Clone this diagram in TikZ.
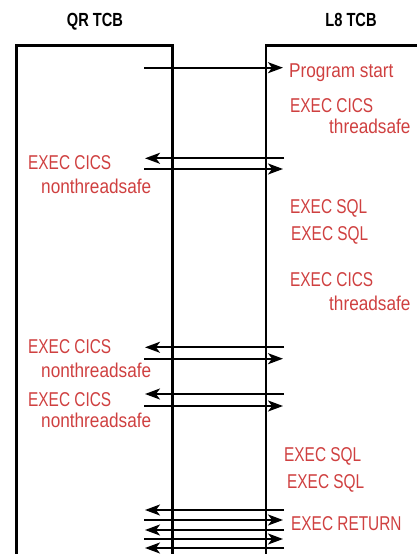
\documentclass[tikz,border=0pt]{standalone}
\usepackage{fontspec}
\setmainfont{Liberation Sans}
\usetikzlibrary{arrows.meta}
\definecolor{lbl}{RGB}{207,64,64}
\newcommand\cnd[1]{\scalebox{0.77}[1]{#1}}
\newcommand\lcnd[1]{\scalebox{0.86}[1]{#1}}
\newcommand\tcnd[1]{\scalebox{0.77}[1]{\bfseries #1}}
\tikzset{
  lane/.style={line width=2.2pt},
  msg/.style={line width=2pt,-{Stealth[length=15pt,width=11pt,inset=4pt]}},
  lbl/.style={anchor=base west,inner sep=0pt,text=lbl,font=\fontsize{20}{20}\selectfont},
  ttl/.style={anchor=base,inner sep=0pt,font=\fontsize{19}{19}\selectfont},
}
\begin{document}
\begin{tikzpicture}[x=1pt,y=1pt]
\useasboundingbox (0,0) rectangle (417,-554);
% titles
\node[ttl] (tqr) at (95,-27) {\tcnd{QR TCB}};
\node[ttl] (tl8) at (351,-27) {\tcnd{L8 TCB}};
% lanes
\draw[lane] (16.5,-554) -- (16.5,-45.5) -- (172.5,-45.5) -- (172.5,-554);
\draw[lane] (417,-45.5) -- (266,-45.5) -- (266,-554);
% arrow endpoints
\foreach \n/\y in {a/67.7,c/169,e/358.7,g/406,j/520,l/539}{
  \coordinate (\n s) at (144,-\y);
  \coordinate (\n t) at (283,-\y);
}
\foreach \n/\y in {b/158.3,d/347.3,f/394,i/510,k/530,m/548}{
  \coordinate (\n s) at (284,-\y);
  \coordinate (\n t) at (145,-\y);
}
\foreach \n in {a,b,c,d,e,f,g,i,j,k,l,m}{
  \draw[msg] (\n s) -- (\n t);
}
% labels
\node[lbl] (l1) at (289,-77) {\lcnd{Program start}};
\node[lbl] (l2) at (290,-112) {\cnd{EXEC CICS}};
\node[lbl] (l3) at (329,-133) {\lcnd{threadsafe}};
\node[lbl] (l4) at (28,-169) {\cnd{EXEC CICS}};
\node[lbl] (l5) at (41,-193) {\lcnd{nonthreadsafe}};
\node[lbl] (l6) at (290,-213) {\cnd{EXEC SQL}};
\node[lbl] (l7) at (291,-240) {\cnd{EXEC SQL}};
\node[lbl] (l8) at (290,-286) {\cnd{EXEC CICS}};
\node[lbl] (l9) at (329,-310) {\lcnd{threadsafe}};
\node[lbl] (l10) at (28,-353) {\cnd{EXEC CICS}};
\node[lbl] (l11) at (41,-377) {\lcnd{nonthreadsafe}};
\node[lbl] (l12) at (28,-406) {\cnd{EXEC CICS}};
\node[lbl] (l13) at (41,-427) {\lcnd{nonthreadsafe}};
\node[lbl] (l14) at (284,-461) {\cnd{EXEC SQL}};
\node[lbl] (l15) at (287,-488) {\cnd{EXEC SQL}};
\node[lbl] (l16) at (291,-530) {\cnd{EXEC RETURN}};
\end{tikzpicture}
\end{document}
